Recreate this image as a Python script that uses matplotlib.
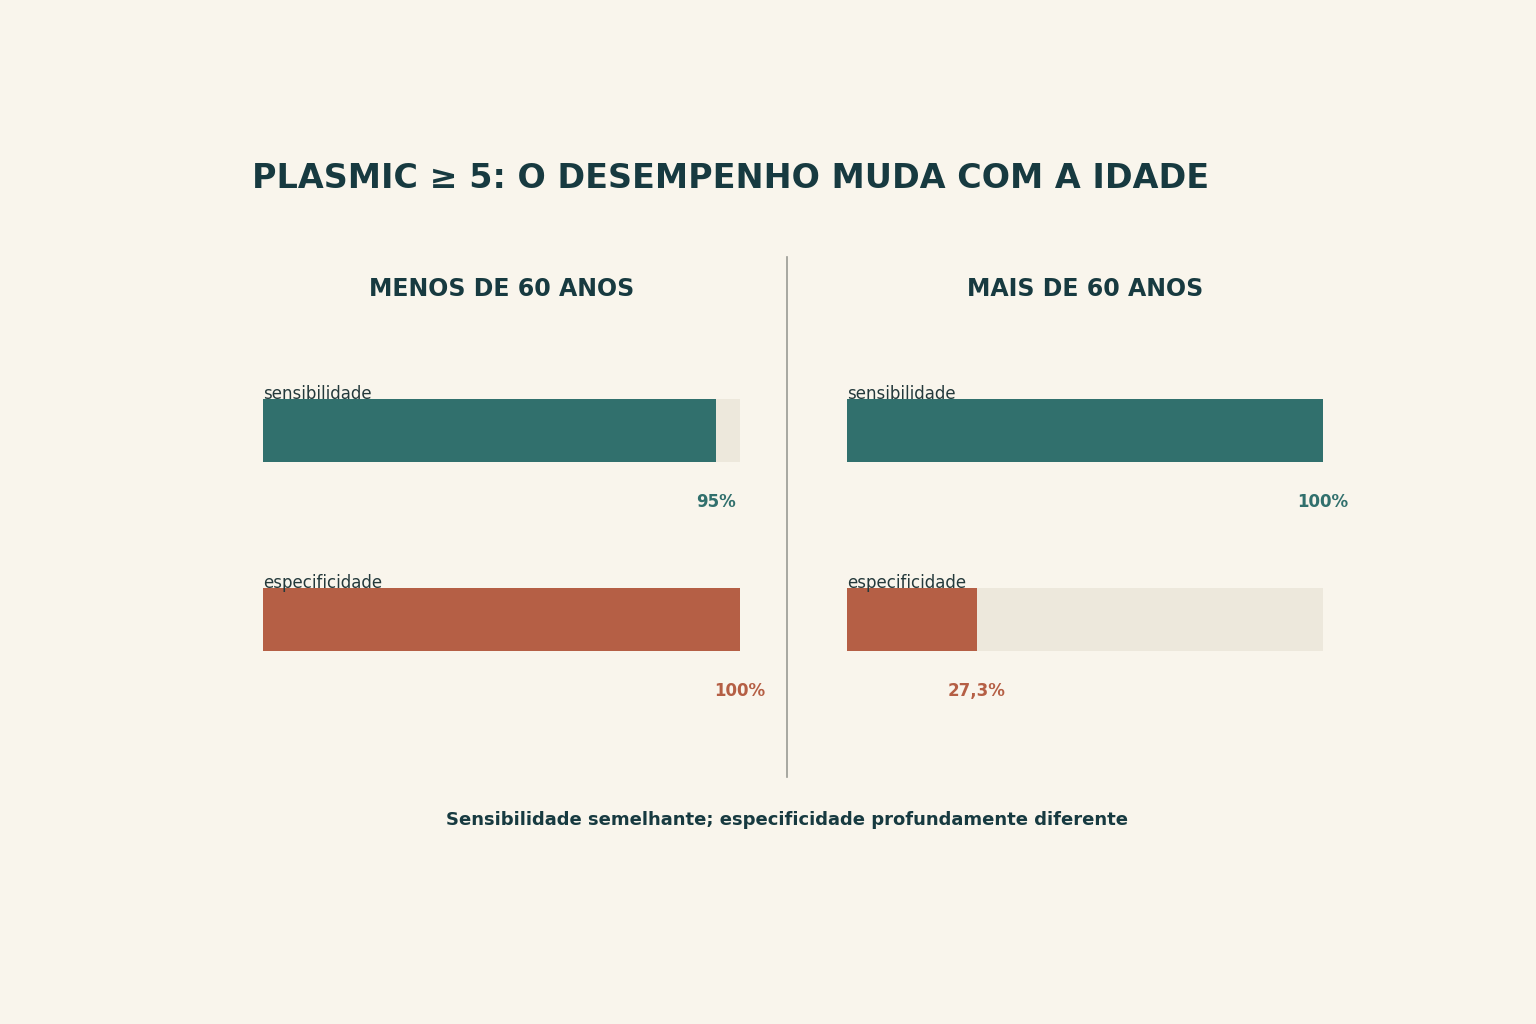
import matplotlib
matplotlib.use("Agg")
import matplotlib.pyplot as plt
from matplotlib.lines import Line2D

# data
groups = ["MENOS DE 60 ANOS", "MAIS DE 60 ANOS"]
metrics = ["sensibilidade", "especificidade"]
under60 = [95, 100]
over60 = [100, 27.3]
value_labels = [["95%", "100%"], ["100%", "27,3%"]]

bg = "#F9F5EC"
track = "#EDE8DC"
dark = "#173A40"
bar_colors = ["#31706D", "#B55F45"]

W, H = 1536, 1024
fig = plt.figure(figsize=(W / 100, H / 100), dpi=100, facecolor=bg)

fig.text(252 / W, 1 - 178 / H, "PLASMIC \u2265 5: O DESEMPENHO MUDA COM A IDADE",
         fontsize=24, fontweight="bold", color=dark, ha="left", va="center")

panels = [(263, 477, under60), (847, 476, over60)]
bar_h = 63 / 189
for p, (left_px, width_px, vals) in enumerate(panels):
    ax = fig.add_axes([left_px / W, 1 - 714 / H, width_px / W, 378 / H])
    ax.set_facecolor("none")
    ax.set_xlim(0, 100)
    ax.set_ylim(1.5, -0.5)
    ax.axis("off")
    for i, (m, v) in enumerate(zip(metrics, vals)):
        ax.barh(i, 100, height=bar_h, color=track, linewidth=0)
        ax.barh(i, v, height=bar_h, color=bar_colors[i], linewidth=0)
        ax.text(0, i - bar_h / 2, m, fontsize=12, color="#24393B",
                ha="left", va="baseline")
        ax.text(v, i + bar_h / 2 + 0.213, value_labels[p][i], fontsize=12,
                fontweight="bold", color=bar_colors[i], ha="center", va="center",
                clip_on=False)
    fig.text((left_px + 238.5) / W, 1 - 289 / H, groups[p], fontsize=17,
             fontweight="bold", color=dark, ha="center", va="center")

fig.add_artist(Line2D([787 / W, 787 / W], [1 - 257 / H, 1 - 777 / H],
                      color="#9A9A94", linewidth=1.2))

fig.text(787 / W, 1 - 820 / H,
         "Sensibilidade semelhante; especificidade profundamente diferente",
         fontsize=13, fontweight="bold", color=dark, ha="center", va="center")

fig.savefig("out.png", dpi=100, facecolor=bg)
